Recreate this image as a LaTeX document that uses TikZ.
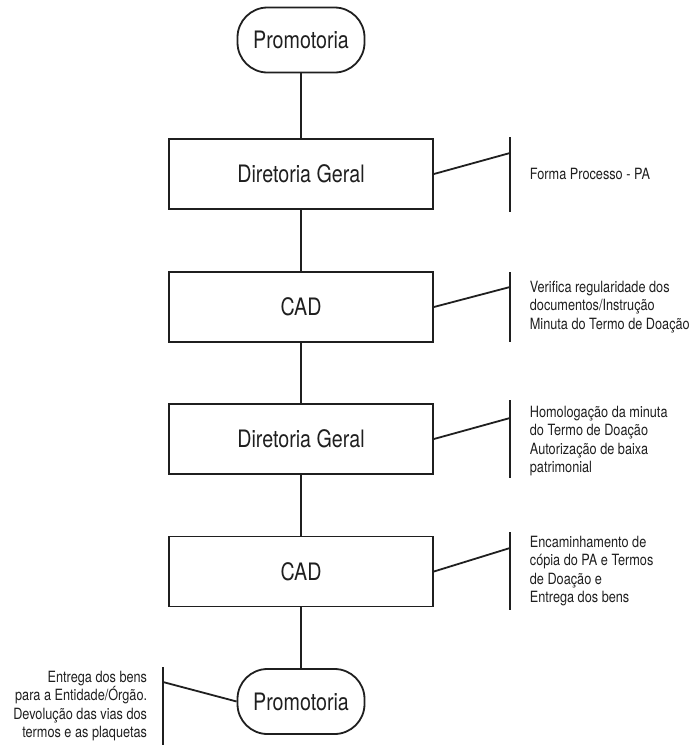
\documentclass[tikz,border=0pt]{standalone}
\usepackage{fontspec}
\setmainfont{TeX Gyre Heros}[FakeStretch=0.82]
\definecolor{ink}{gray}{0.12}
\begin{document}
\begin{tikzpicture}[x=1pt,y=-1pt,
  line width=1.8pt, draw=ink, text=ink,
  stepbox/.style={draw, minimum width=264pt, minimum height=70pt, inner sep=0pt,
    font=\fontsize{24}{28}\selectfont},
  term/.style={draw, rounded corners=30pt, minimum width=127pt, minimum height=65pt,
    inner sep=0pt, font=\fontsize{24}{28}\selectfont},
  note/.style={inner sep=0pt, font=\fontsize{15.5}{18.5}\selectfont},
  link/.style={draw, line width=1.8pt}]
\useasboundingbox (0,0) rectangle (698,745);

% main flow
\node[term]    (p1) at (301,40)    {Promotoria};
\node[stepbox] (dg1) at (301,174)  {Diretoria Geral};
\node[stepbox] (cad1) at (301,307) {CAD};
\node[stepbox] (dg2) at (301,439)  {Diretoria Geral};
\node[stepbox] (cad2) at (301,571.5) {CAD};
\node[term]    (p2) at (301,701.5) {Promotoria};

\draw[link] (p1) -- (dg1);
\draw[link] (dg1) -- (cad1);
\draw[link] (cad1) -- (dg2);
\draw[link] (dg2) -- (cad2);
\draw[link] (cad2) -- (p2);

% annotation brackets
\coordinate (b1t) at (510,137); \coordinate (b1b) at (510,212); \coordinate (b1c) at (510,153);
\coordinate (b2t) at (510,272); \coordinate (b2b) at (510,342); \coordinate (b2c) at (510,287);
\coordinate (b3t) at (510,400); \coordinate (b3b) at (510,478); \coordinate (b3c) at (510,418);
\coordinate (b4t) at (510,532); \coordinate (b4b) at (510,610); \coordinate (b4c) at (510,548);
\coordinate (b5t) at (163,667); \coordinate (b5b) at (163,745); \coordinate (b5c) at (163,682);

\draw[link] (b1t) -- (b1b); \draw[link] (dg1.east) -- (b1c);
\draw[link] (b2t) -- (b2b); \draw[link] (cad1.east) -- (b2c);
\draw[link] (b3t) -- (b3b); \draw[link] (dg2.east) -- (b3c);
\draw[link] (b4t) -- (b4b); \draw[link] (cad2.east) -- (b4c);
\draw[link] (b5t) -- (b5b); \draw[link] (p2.west) -- (b5c);

% annotation texts
\node[note, anchor=west, align=left] (n1) at (529,174) {Forma Processo - PA};
\node[note, anchor=west, align=left] (n2) at (529,307)
  {Verifica regularidade dos\\documentos/Instrução\\Minuta do Termo de Doação};
\node[note, anchor=west, align=left] (n3) at (529,441)
  {Homologação da minuta\\do Termo de Doação\\Autorização de baixa\\patrimonial};
\node[note, anchor=west, align=left] (n4) at (529,571)
  {Encaminhamento de\\cópia do PA e Termos\\de Doação e\\Entrega dos bens};
\node[note, anchor=east, align=right] (n5) at (148,706)
  {Entrega dos bens\\para a Entidade/Órgão.\\Devolução das vias dos\\termos e as plaquetas};
\end{tikzpicture}
\end{document}
